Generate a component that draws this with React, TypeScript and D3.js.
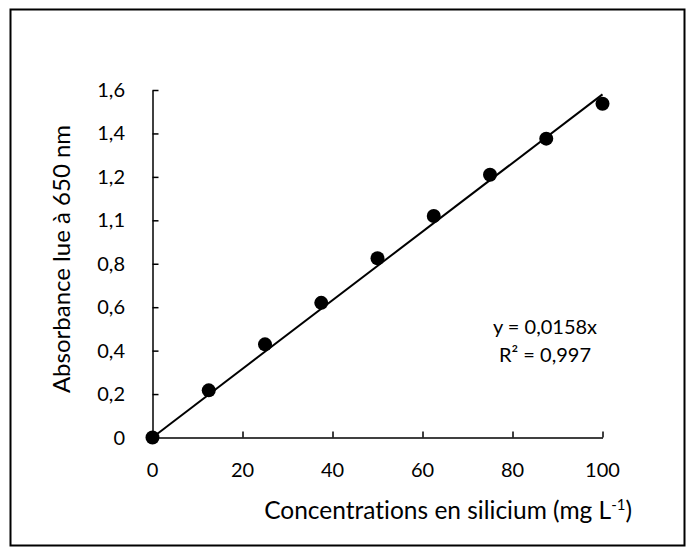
// @ts-nocheck
import React, { useEffect, useRef } from 'react';
import * as d3 from 'd3';

// concentrations (mg/L) and absorbance read at 650 nm
const concentrations = [0, 12.5, 25, 37.5, 50, 62.5, 75, 87.5, 100];
const absorbances = [0, 0.217, 0.429, 0.62, 0.825, 1.02, 1.21, 1.376, 1.537];

const xTickValues = [0, 20, 40, 60, 80, 100];
const yTickValues = [0, 0.2, 0.4, 0.6, 0.8, 1.0, 1.2, 1.4, 1.6];
const yTickLabels = ['0', '0,2', '0,4', '0,6', '0,8', '1,1', '1,2', '1,4', '1,6'];

const slope = 0.0158;
const equationLines = ['y = 0,0158x', 'R² = 0,997'];

const W = 689;
const H = 551;

const App: React.FC = () => {
  const ref = useRef<SVGSVGElement | null>(null);

  useEffect(() => {
    document.body.style.margin = '0';
    const svg = d3.select(ref.current);
    svg.selectAll('*').remove();

    const font = 'Lato, "Open Sans", sans-serif';

    // cadre
    svg.append('rect')
      .attr('x', 10.5)
      .attr('y', 9.5)
      .attr('width', 674)
      .attr('height', 536)
      .attr('fill', 'white')
      .attr('stroke', 'black')
      .attr('stroke-width', 2);

    const x = d3.scaleLinear().domain([0, 100]).range([152.5, 602.5]);
    const y = d3.scaleLinear().domain([0, 1.6]).range([437.5, 90]);

    // axe X, ticks vers l'intérieur
    const gx = svg.append('g')
      .attr('transform', `translate(0,${y(0)})`)
      .call(d3.axisTop(x).tickValues(xTickValues).tickSize(6).tickSizeOuter(0).tickFormat(() => ''));
    gx.select('.domain').attr('stroke-width', 1.5);
    gx.selectAll('.tick line').attr('stroke-width', 1.5);

    // axe Y
    const gy = svg.append('g')
      .attr('transform', `translate(${x(0)},0)`)
      .call(d3.axisRight(y).tickValues(yTickValues).tickSize(6).tickSizeOuter(0).tickFormat(() => ''));
    gy.select('.domain').attr('stroke-width', 1.5);
    gy.selectAll('.tick line').attr('stroke-width', 1.5);

    // étiquettes
    svg.append('g')
      .selectAll('text')
      .data(xTickValues)
      .enter()
      .append('text')
      .attr('x', (d) => x(d))
      .attr('y', 477)
      .attr('text-anchor', 'middle')
      .style('font-family', font)
      .style('font-size', '20px')
      .style('fill', '#000')
      .text((d) => d);

    svg.append('g')
      .selectAll('text')
      .data(yTickValues)
      .enter()
      .append('text')
      .attr('x', 125)
      .attr('y', (d) => y(d) + 7)
      .attr('text-anchor', 'end')
      .style('font-family', font)
      .style('font-size', '20px')
      .style('fill', '#000')
      .text((d, i) => yTickLabels[i]);

    // droite de régression
    const line = d3.line<number>()
      .x((d) => x(d))
      .y((d) => y(slope * d));
    svg.append('path')
      .datum([0, 100])
      .attr('d', line)
      .attr('fill', 'none')
      .attr('stroke', 'black')
      .attr('stroke-width', 2);

    // points
    svg.append('g')
      .selectAll('circle')
      .data(concentrations)
      .enter()
      .append('circle')
      .attr('cx', (d) => x(d))
      .attr('cy', (d, i) => y(absorbances[i]))
      .attr('r', 7)
      .attr('fill', 'black');

    // équation
    svg.append('g')
      .selectAll('text')
      .data(equationLines)
      .enter()
      .append('text')
      .attr('x', 545)
      .attr('y', (d, i) => 334 + i * 28)
      .attr('text-anchor', 'middle')
      .style('font-family', font)
      .style('font-size', '20px')
      .style('fill', '#000')
      .text((d) => d);

    // titres des axes
    svg.append('text')
      .attr('transform', `translate(70,259) rotate(-90)`)
      .attr('text-anchor', 'middle')
      .style('font-family', font)
      .style('font-size', '24px')
      .style('fill', '#000')
      .text('Absorbance lue à 650 nm');

    const xt = svg.append('text')
      .attr('x', 632)
      .attr('y', 519)
      .attr('text-anchor', 'end')
      .style('font-family', font)
      .style('font-size', '24.5px')
      .style('font-variant-ligatures', 'none')
      .style('fill', '#000');
    xt.append('tspan').text('Concentrations en silicium (mg L');
    xt.append('tspan').attr('dy', -9).style('font-size', '15px').text('-1');
    xt.append('tspan').attr('dy', 9).text(')');
  }, []);

  return <svg ref={ref} width={W} height={H} style={{ display: 'block' }}></svg>;
};

export default App;
